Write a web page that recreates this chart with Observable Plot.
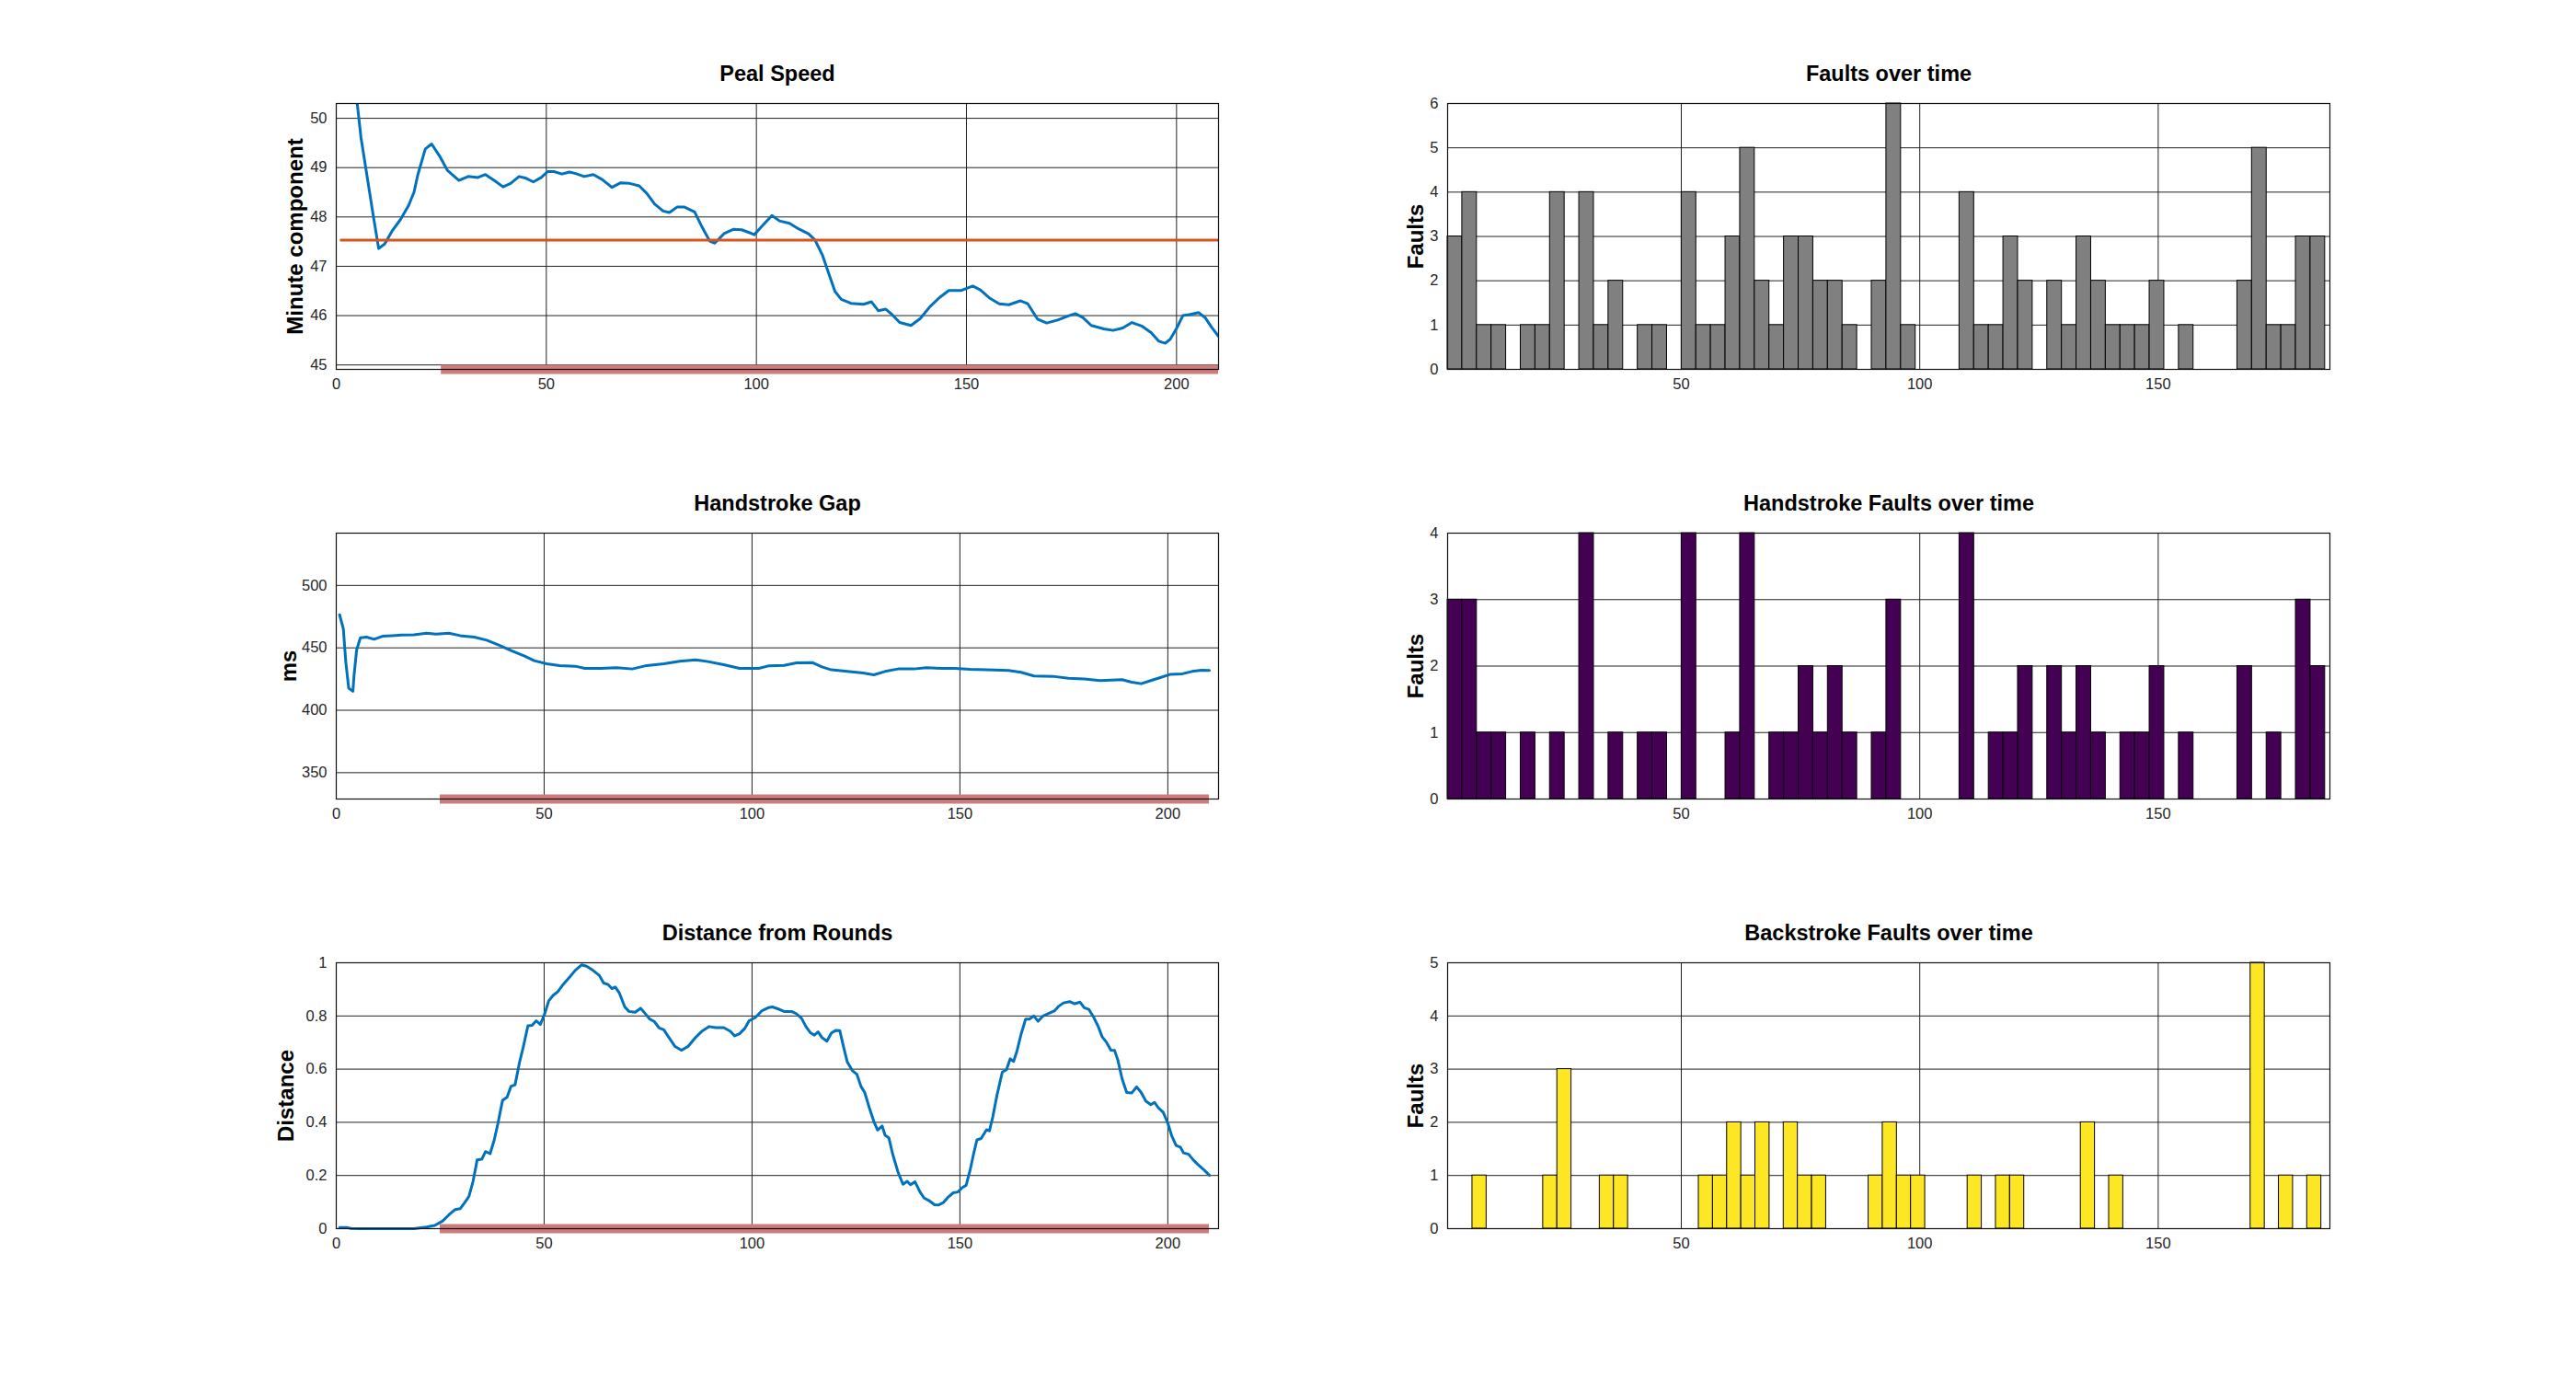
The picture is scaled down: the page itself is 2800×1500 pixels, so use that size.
<!DOCTYPE html>
<html><head><meta charset="utf-8">
<script src="https://cdn.jsdelivr.net/npm/d3@7"></script>
<script src="https://cdn.jsdelivr.net/npm/@observablehq/plot@0.6"></script>
<style>
html,body{margin:0;padding:0;background:#fff;}
#page{position:relative;width:2800px;height:1500px;background:#fff;overflow:hidden;font-family:"Liberation Sans",Arial,Helvetica,sans-serif;}
#page svg{overflow:visible;}
</style></head>
<body><div id="page"></div>
<script>
// ---------- data ----------
// Peal Speed (change number vs minute component)
const pealX = [4.6,5.9,7.4,8.9,10.1,11.5,13.4,15.3,17.2,18.5,19.4,21.2,22.7,24.7,26.5,29.2,31.4,33.7,35.5,37.8,39.7,41.5,43.5,45,46.9,48.8,50.3,51.8,53.7,55.5,57,59,61.2,63.3,65.6,67.6,69.8,72.1,73.9,75.8,77.8,79.3,81.1,82.9,85.3,87.1,88.9,90.1,92.4,94.6,96.5,98.4,99.5,101.4,103.7,105.5,107.9,110,112.4,113.9,115.7,117.2,118.7,120.2,122.5,125.5,127.4,129,130.8,132.3,134.1,136.8,139,141.3,143.5,145.8,148.8,151.5,153.3,155.6,157.8,160.1,162.8,164.6,166.9,169.1,171.7,174.4,175.9,177.7,179.7,182.7,184.9,187.2,189.4,191.7,194,195.8,197.3,198.5,200,201.5,203,205.3,206.8,208.3,210];
const pealY = [50.6,49.6,48.79,47.98,47.36,47.45,47.73,47.95,48.23,48.5,48.85,49.38,49.48,49.22,48.94,48.74,48.82,48.80,48.86,48.73,48.61,48.68,48.82,48.79,48.71,48.80,48.92,48.92,48.87,48.91,48.88,48.82,48.86,48.76,48.60,48.69,48.68,48.63,48.48,48.26,48.12,48.09,48.20,48.20,48.10,47.79,47.51,47.47,47.67,47.75,47.74,47.68,47.64,47.82,48.03,47.92,47.87,47.76,47.66,47.54,47.23,46.86,46.49,46.33,46.25,46.23,46.28,46.10,46.13,46.02,45.86,45.80,45.94,46.18,46.36,46.51,46.51,46.60,46.52,46.35,46.24,46.22,46.30,46.24,45.93,45.85,45.91,46.00,46.04,45.96,45.80,45.73,45.70,45.75,45.86,45.79,45.65,45.48,45.44,45.52,45.74,46.00,46.02,46.06,45.96,45.77,45.58];
const targetSpeed = 47.53;
const targetRange = [1, 210];

// Handstroke gap (ms)
const gapX = [0.8,1.7,2.3,3,4,4.3,4.9,5.8,7.3,9.1,11.1,13.4,15.7,18.7,21.7,24,27.1,29.8,33.2,36.2,39.2,42.3,45.3,47.6,50.6,53.7,57.5,59.8,63.6,67.4,71.2,74.2,78.8,82.6,86.4,89.4,93.2,97,101.6,103.9,107.7,110.7,114.5,116.8,119.1,122.9,126.7,129.3,132,135.1,138.9,141.9,145.7,148.7,152.5,156.3,161.7,164.7,167.8,172.3,176.1,179.9,183.7,189,191.3,193.6,195.9,198.2,200.5,203.5,205.8,208.1,210];
const gapY = [476.5,465.4,438.5,417.6,415.2,428.7,448.3,458.1,458.6,456.9,459.3,459.8,460.3,460.5,461.8,461,461.8,459.8,458.6,456.1,452,447.5,443.4,439.7,437.3,435.8,435.3,433.6,433.6,434.1,433.1,435.5,437.3,439.2,440.4,439,436.5,433.6,433.6,435.5,436,438,438.2,434.8,432.4,431.1,429.9,428.4,431.1,433.1,433.1,434.1,433.6,433.6,432.8,432.4,431.9,430.4,427.5,427.2,425.7,425,423.8,424.5,422.5,421.3,423.8,426.2,428.7,429.2,431.1,432.1,431.9];

// Distance from Rounds
const distX = [0.8,2.7,3.5,5.8,18.7,21.7,23.7,25.6,27.1,28.6,29.8,30.9,31.9,32.9,33.9,35,35.9,37,38,38.9,40,41.1,42,43,44.1,45,46.1,47.1,48.1,49.1,50.2,51.1,52.2,53.2,54.4,56,57.5,59,60.2,61.7,63.3,64.3,65.4,66.3,67.1,68.1,69.4,70.4,71.9,73.2,74.2,75.4,76.5,77.6,78.8,80,81.5,83,84.6,86.4,87.9,89.7,91.3,93.2,94.8,95.8,97,98.3,99.3,100.8,102.4,103.9,104.9,106.2,107.7,109.5,110.7,111.9,113,114.1,115,115.9,116.8,118,119.1,120.2,121.1,122,122.9,124.1,125.2,126.2,127.1,128.2,129.3,130.2,131.3,132,132.9,133.8,135.1,136.3,137.3,138.1,139.2,140.4,141.4,142.7,143.9,144.9,146,147.2,148.4,149.5,150.6,151.5,152.5,153.3,154.1,155.1,156.4,157.1,157.9,158.9,160.2,161.2,162.1,162.9,163.7,164.7,165.8,166.7,167.8,168.8,170,171.3,172.8,173.8,174.9,176.4,177.6,178.9,179.9,181,182.2,183.3,184.2,185.2,186.3,187.2,188,189,190.1,191.3,192.5,193.6,194.7,195.9,196.8,197.7,198.9,200,200.9,202,203,203.8,205,206.1,207.2,208.5,209.6,210];
const distY = [0.004,0.004,0.001,0,0,0.006,0.012,0.029,0.052,0.072,0.075,0.098,0.121,0.178,0.259,0.261,0.29,0.282,0.334,0.397,0.483,0.495,0.535,0.541,0.627,0.685,0.763,0.765,0.782,0.768,0.811,0.857,0.878,0.89,0.915,0.944,0.972,0.992,0.987,0.972,0.952,0.924,0.918,0.903,0.909,0.886,0.834,0.817,0.814,0.829,0.811,0.788,0.779,0.756,0.748,0.719,0.685,0.671,0.685,0.719,0.742,0.76,0.756,0.756,0.742,0.725,0.733,0.754,0.782,0.794,0.82,0.831,0.834,0.827,0.817,0.817,0.808,0.791,0.759,0.736,0.728,0.74,0.719,0.705,0.736,0.746,0.745,0.685,0.627,0.595,0.581,0.535,0.512,0.455,0.403,0.371,0.386,0.351,0.342,0.282,0.213,0.167,0.178,0.165,0.176,0.138,0.115,0.104,0.09,0.089,0.098,0.119,0.135,0.138,0.155,0.163,0.224,0.282,0.334,0.339,0.372,0.368,0.42,0.501,0.589,0.598,0.639,0.629,0.667,0.731,0.788,0.788,0.8,0.78,0.8,0.809,0.82,0.837,0.849,0.854,0.846,0.852,0.831,0.825,0.794,0.759,0.722,0.702,0.671,0.67,0.633,0.564,0.512,0.51,0.533,0.512,0.48,0.466,0.475,0.455,0.437,0.397,0.351,0.313,0.307,0.285,0.28,0.259,0.242,0.224,0.207,0.201];

// rounds-marker band (change range)
const bandRange = [25, 210];

// Fault histograms (60 bins each)
const faultsAll = [3,4,1,1,0,1,1,4,0,4,1,2,0,1,1,0,4,1,1,3,5,2,1,3,3,2,2,1,0,2,6,1,0,0,0,4,1,1,3,2,0,2,1,3,2,1,1,1,2,0,1,0,0,0,2,5,1,1,3,3];
const faultsHand = [3,3,1,1,0,1,0,1,0,4,0,1,0,1,1,0,4,0,0,1,4,0,1,1,2,1,2,1,0,1,3,0,0,0,0,4,0,1,1,2,0,2,1,2,1,0,1,1,2,0,1,0,0,0,2,0,1,0,3,2];
const faultsBack = [1,0,0,0,0,1,3,0,0,1,1,0,0,0,0,0,1,1,2,1,2,0,2,1,1,0,0,0,1,2,1,1,0,0,0,1,0,1,1,0,0,0,0,2,0,1,0,0,0,0,0,0,0,0,0,5,0,1,0,1];
const rangeAll = [1, 185];    // data range binned for faults / handstroke faults
const rangeBack = [6.2, 184.2];

// tick labels
const lineXTicks = [0, 50, 100, 150, 200];
const faultXTicks = [50, 100, 150];
const pealYTicks = [45, 46, 47, 48, 49, 50];
const gapYTicks = [350, 400, 450, 500];
const distYTicks = [0, 0.2, 0.4, 0.6, 0.8, 1];

// ---------- layout ----------
const ML = 90, MR = 20, MT = 50, MB = 40, FW = 959, FH = 289;
const FONT = '"Liberation Sans", Arial, Helvetica, sans-serif';
const page = document.getElementById("page");
const BLUE = "#0072BD", ORANGE = "#D95319", BAND = "#cd7b7b";

function pts(xs, ys) { return xs.map((x, i) => ({x, y: ys[i]})); }
function bins(counts, range) {
  const w = (range[1] - range[0]) / counts.length;
  return counts.map((c, i) => ({x1: range[0] + i * w, x2: range[0] + (i + 1) * w, c})).filter(d => d.c > 0);
}

function panel(cfg) {
  const chart = Plot.plot({
    width: FW + ML + MR, height: FH + MT + MB,
    marginLeft: ML, marginRight: MR, marginTop: MT, marginBottom: MB,
    style: {fontFamily: FONT, color: "#262626", background: "transparent", overflow: "visible"},
    x: {domain: cfg.xDomain},
    y: {domain: cfg.yDomain},
    marks: [
      Plot.gridX({ticks: cfg.xTicks, stroke: "#222", strokeOpacity: 1, strokeWidth: 1}),
      Plot.gridY({ticks: cfg.yTicks, stroke: "#222", strokeOpacity: 1, strokeWidth: 1}),
      ...cfg.marks,
      Plot.frame({stroke: "#111", strokeWidth: 1.2}),
      Plot.axisX({ticks: cfg.xTicks, tickSize: 0, tickPadding: 10, fontSize: 16.5, label: null, tickFormat: d => String(d), fill: "#262626"}),
      Plot.axisY({ticks: cfg.yTicks, tickSize: 0, tickPadding: 10, fontSize: 16.5, label: null, tickFormat: d => String(d), fill: "#262626"}),
      Plot.text([cfg.title], {text: d => d, frameAnchor: "top", dy: -25, lineAnchor: "bottom", fontSize: 23.5, fontWeight: "bold", fill: "#000"}),
      Plot.text([cfg.ylabel], {text: d => d, frameAnchor: "left", textAnchor: "middle", lineAnchor: "middle", dx: cfg.labelDx, rotate: -90, fontSize: 24, fontWeight: "bold", fill: "#000"})
    ]
  });
  chart.style.position = "absolute";
  chart.style.left = (cfg.left - ML) + "px";
  chart.style.top = (cfg.top - MT) + "px";
  page.appendChild(chart);
}

const leftX = 364.7, rightX = 1573.3;
const rowY = [112.3, 579.3, 1045.8];

function band(yBottom) {
  return Plot.ruleY([{y: yBottom, x1: bandRange[0], x2: bandRange[1]}], {y: "y", x1: "x1", x2: "x2", stroke: BAND, strokeWidth: 10});
}

// Peal Speed
const pealDomain = [44.91, 50.30];
panel({
  left: leftX, top: rowY[0], xDomain: [0, 210], yDomain: pealDomain,
  xTicks: lineXTicks, yTicks: pealYTicks, title: "Peal Speed", ylabel: "Minute component", labelDx: -44,
  marks: [
    band(pealDomain[0]),
    Plot.line(pts(pealX, pealY), {x: "x", y: "y", stroke: BLUE, strokeWidth: 3, clip: true}),
    Plot.ruleY([{y: targetSpeed, x1: targetRange[0], x2: targetRange[1]}], {y: "y", x1: "x1", x2: "x2", stroke: ORANGE, strokeWidth: 3})
  ]
});

// Handstroke Gap
const gapDomain = [328.9, 541.9];
panel({
  left: leftX, top: rowY[1], xDomain: [0, 212.2], yDomain: gapDomain,
  xTicks: lineXTicks, yTicks: gapYTicks, title: "Handstroke Gap", ylabel: "ms", labelDx: -51,
  marks: [
    band(gapDomain[0]),
    Plot.line(pts(gapX, gapY), {x: "x", y: "y", stroke: BLUE, strokeWidth: 3})
  ]
});

// Distance from Rounds
const distDomain = [0, 1];
panel({
  left: leftX, top: rowY[2], xDomain: [0, 212.2], yDomain: distDomain,
  xTicks: lineXTicks, yTicks: distYTicks, title: "Distance from Rounds", ylabel: "Distance", labelDx: -54,
  marks: [
    band(distDomain[0]),
    Plot.line(pts(distX, distY), {x: "x", y: "y", stroke: BLUE, strokeWidth: 3})
  ]
});

// Faults histograms
const faultDomainX = [1, 186];
function faultPanel(row, title, counts, range, fill, ymax) {
  const yt = d3.range(0, ymax + 1);
  panel({
    left: rightX, top: rowY[row], xDomain: faultDomainX, yDomain: [0, ymax],
    xTicks: faultXTicks, yTicks: yt, title, ylabel: "Faults", labelDx: -34,
    marks: [
      Plot.rectY(bins(counts, range), {x1: "x1", x2: "x2", y: "c", fill, stroke: "#000", strokeWidth: 1})
    ]
  });
}
faultPanel(0, "Faults over time", faultsAll, rangeAll, "#808080", 6);
faultPanel(1, "Handstroke Faults over time", faultsHand, rangeAll, "#440154", 4);
faultPanel(2, "Backstroke Faults over time", faultsBack, rangeBack, "#FDE725", 5);
</script>
</body></html>
